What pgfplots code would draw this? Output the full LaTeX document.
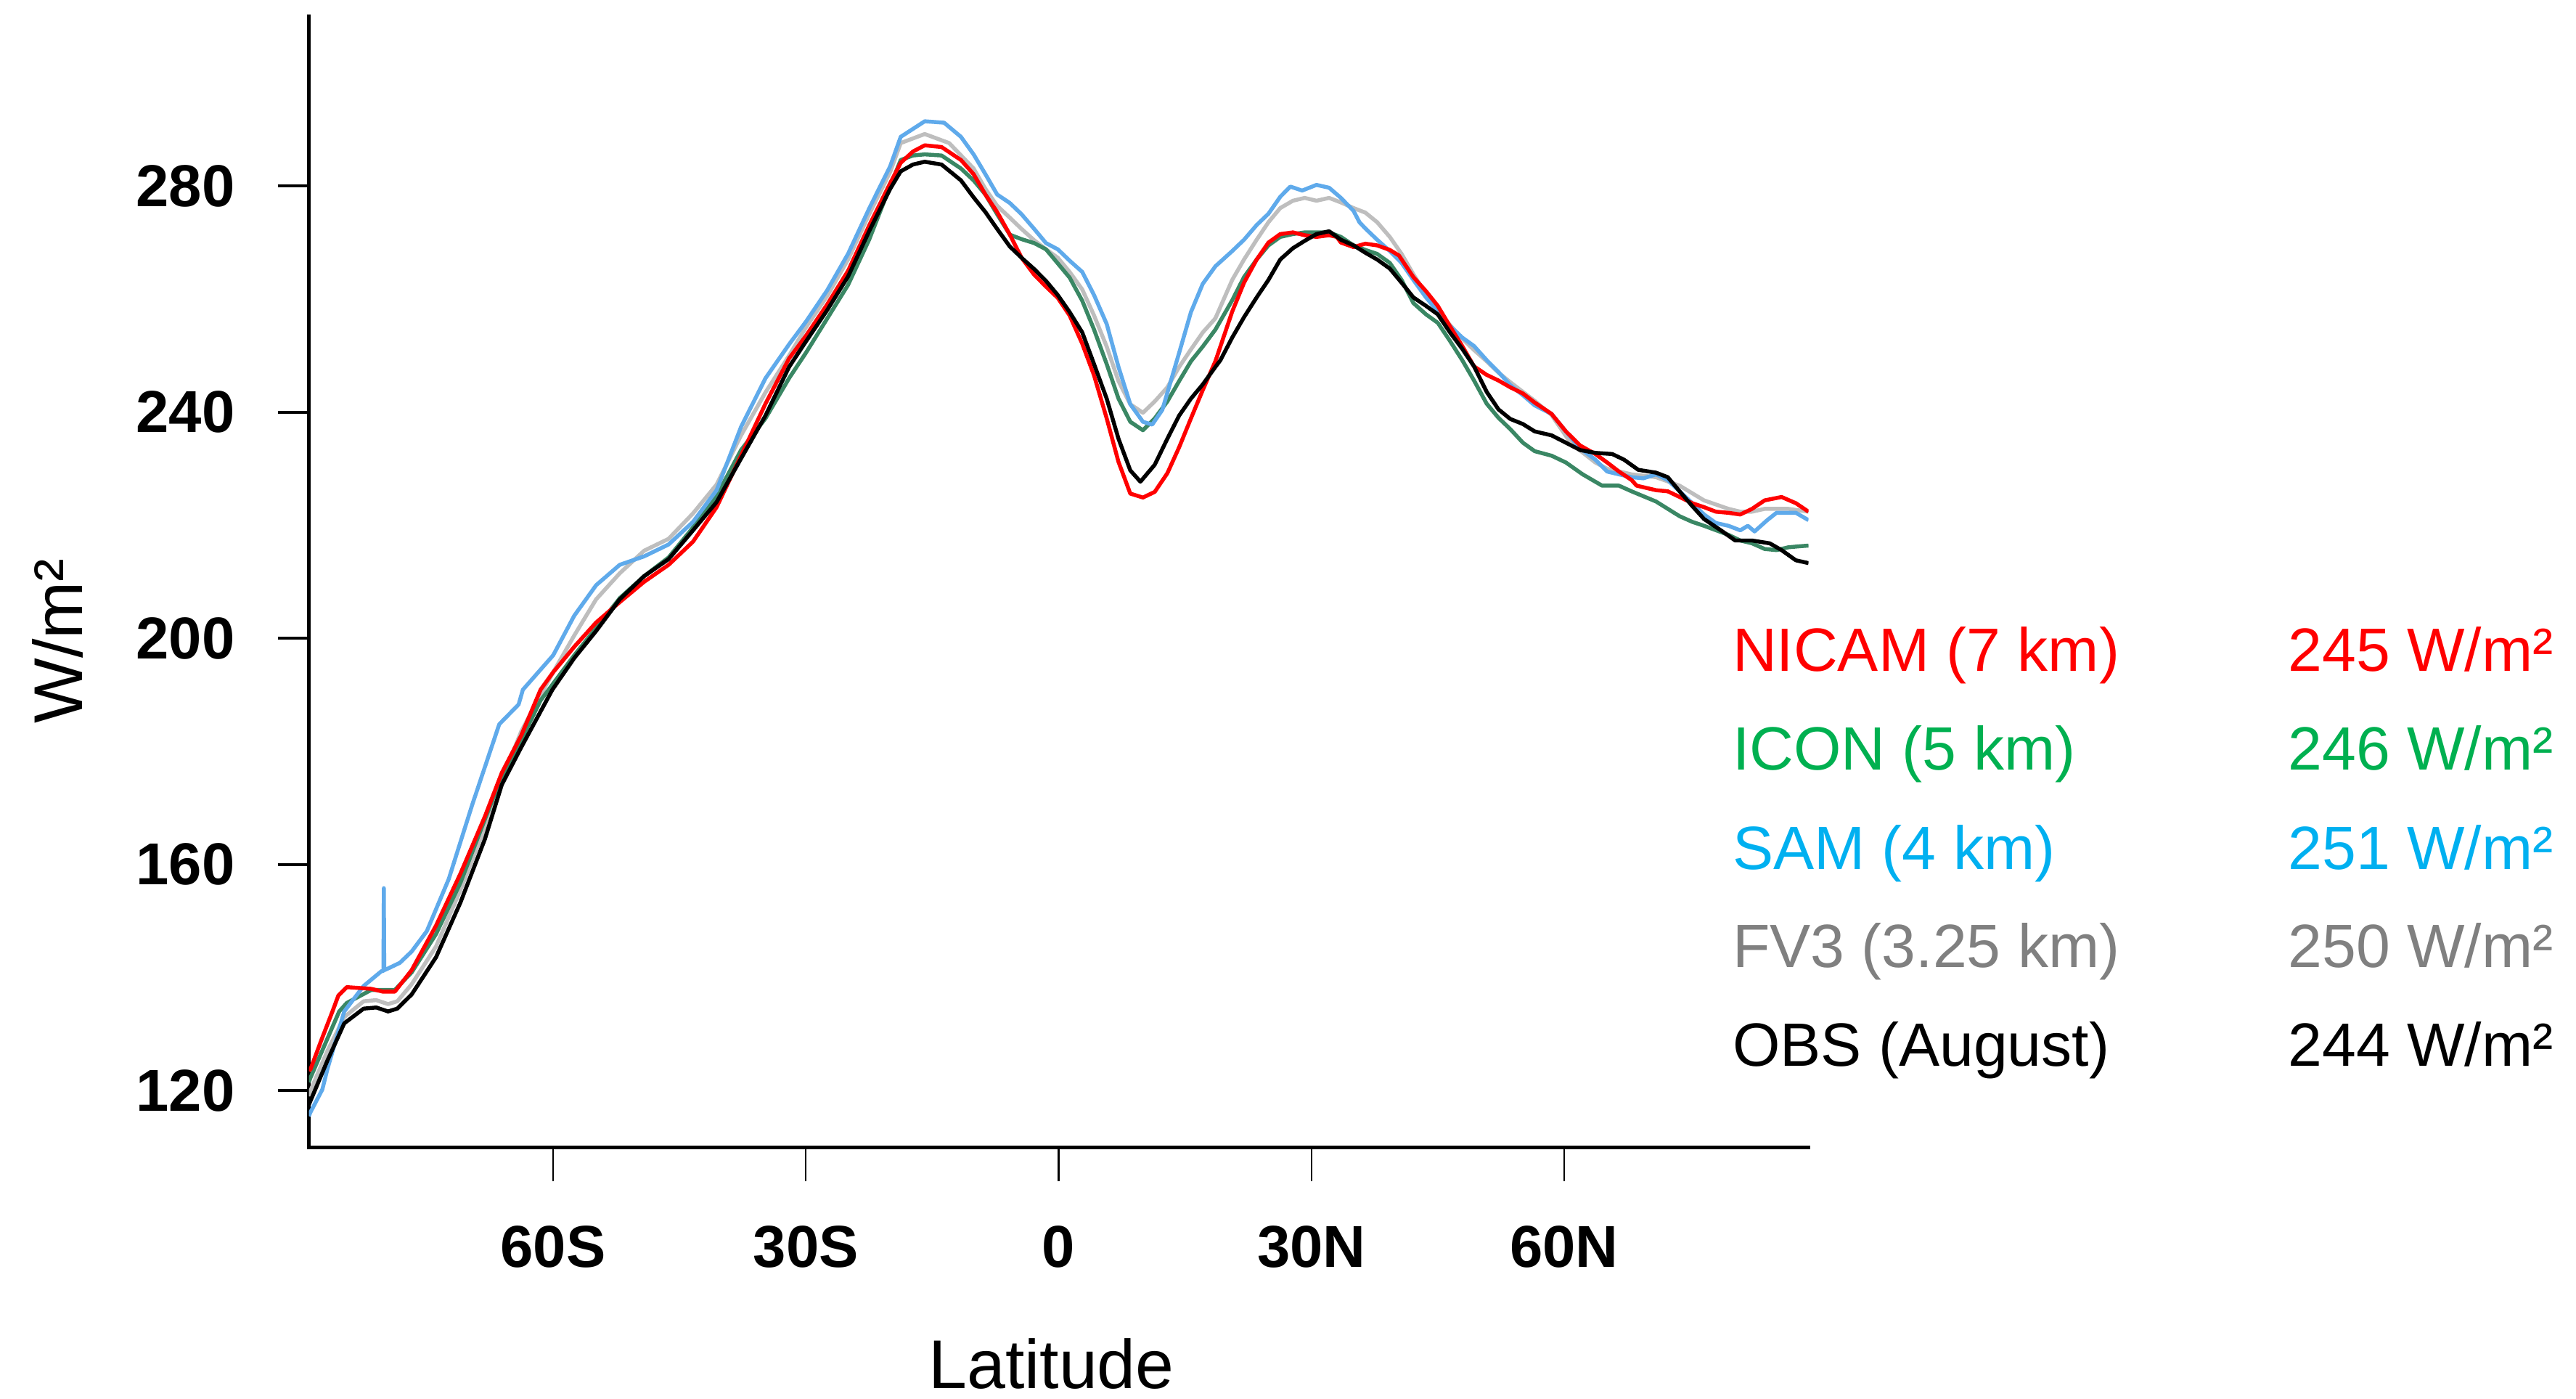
\documentclass[border=0pt]{standalone}
\usepackage{fontspec}
\setmainfont{Liberation Sans}
\usepackage{pgfplots}
\pgfplotsset{compat=1.18}
\definecolor{nicamL}{RGB}{255,0,0}
\definecolor{iconL}{RGB}{58,135,100}
\definecolor{samL}{RGB}{95,170,235}
\definecolor{fvL}{RGB}{190,190,190}
\definecolor{iconT}{RGB}{0,176,80}
\definecolor{samT}{RGB}{0,176,240}
\definecolor{fvT}{RGB}{128,128,128}
\begin{document}
\begin{tikzpicture}
\begin{axis}[
  scale only axis, width=456.4pt, height=344.05pt,
  xmin=-89, xmax=89, ymin=110, ymax=310,
  axis x line*=bottom, axis y line*=left,
  axis line style={line width=1.1pt, line cap=rect},
  tick align=outside, major tick length=9.5pt,
  xtick={-60,-30,0,30,60}, xticklabels={60S,30S,0,30N,60N},
  ytick={120,160,200,240,280}, yticklabels={120,160,200,240,280},
  xtick style={line width=0.5pt, black, /pgfplots/major tick length=10.4pt},
  ytick style={line width=0.8pt, black},
  minor tick num=0,
  tick label style={font=\fontsize{18}{20}\selectfont\bfseries},
  xticklabel shift=11pt, yticklabel shift=9.5pt,
  every axis plot/.append style={line width=1.2pt, line join=round, mark=none},
]
% FV3
\addplot[color=fvL] coordinates {
(-89,119) (-88.8,120) (-86.8,127) (-84.8,133) (-82.5,135.8) (-81,136) (-79.6,135.3) (-78.5,135.8) (-76.8,138.8) (-73.9,145.5) (-71,155.5) (-68.1,166.5) (-66.1,175) (-63.8,183.5) (-61.5,190) (-60,194) (-57.5,200.5) (-54.9,206.9) (-52.1,211.5) (-49.2,215.5) (-46.3,217.6) (-43.4,222.1) (-40.6,227.2) (-37.7,235.9) (-34.8,243.5) (-32,250) (-30,255) (-27.5,260.5) (-25,267) (-22.5,275) (-20,282.5) (-18.75,287.6) (-15.9,289.2) (-13,287.6) (-10.1,283.1) (-8.7,279.5) (-7.3,276.5) (-5.8,274.4) (-4.4,272.4) (-2.9,270.4) (-1.5,268.8) (-0.1,267.3) (1.3,264.8) (2.8,261.7) (4.2,257.1) (5.7,251.6) (7.1,245.5) (8.5,241.4) (10,239.9) (11.4,241.9) (12.9,244.4) (14.3,248) (15.7,251.1) (17.1,254.1) (18.6,256.6) (20.6,263.4) (22,267) (23.5,270.5) (24.9,273.6) (26.3,276.1) (27.8,277.4) (29.2,277.9) (30.6,277.4) (32.1,277.9) (33.5,277.1) (35,276.1) (36.4,275.3) (37.8,273.6) (39.3,271) (40.7,268) (42.1,264.4) (43.6,260.9) (45,257.8) (46.4,255.5) (47.9,253) (49.3,251) (50.8,249) (52.2,247) (53.6,245.3) (56.5,242) (58.5,239.5) (60.8,234.5) (63.7,231.1) (65.1,230) (68,229) (70.9,228.5) (73.7,227) (76.6,224.4) (79.5,222.9) (80.9,222.4) (82.3,222.4) (83.8,222.9) (86.6,222.9) (89,222.4)
};
% ICON
\addplot[color=iconL] coordinates {
(-89,121.5) (-88.8,122.3) (-85.4,134) (-84.5,135.5) (-81.6,137.8) (-78.8,137.8) (-76.8,140.9) (-73.9,147.7) (-71,156.8) (-68.1,168) (-66.1,175.6) (-63.8,182) (-61.5,189) (-60,192) (-57.5,197) (-54.9,201.8) (-52.1,207.1) (-49.2,211) (-46.3,214.3) (-43.4,219.6) (-40.6,225.2) (-37.7,233.3) (-34.8,238.9) (-32,246) (-30,250.5) (-27.5,256.5) (-25,262.5) (-22.5,270.5) (-20,280) (-18.75,284.6) (-17.3,285.4) (-15.9,285.6) (-13.9,285.4) (-11.6,283.1) (-10.1,281) (-8.7,278.5) (-7.3,275) (-5.8,271.4) (-4.4,270.6) (-2.9,269.9) (-1.5,268.8) (-0.1,266.3) (1.3,263.8) (2.8,259.7) (4.2,254.6) (5.7,248.5) (7.1,242.4) (8.5,238.3) (10,236.8) (11.4,238.9) (12.9,241.9) (14.3,245.5) (15.7,249) (17.1,251.6) (18.6,254.6) (20.6,259.8) (22,263.9) (23.5,267) (24.9,269.5) (26.3,271) (27.8,271.5) (29.2,271.8) (30.6,271.8) (32.1,271.8) (33.5,271) (35,269.5) (36.4,268.7) (37.8,268) (39.3,266.4) (40.7,263.4) (42.1,259.3) (43.6,257.3) (45,255.8) (46.4,252.7) (47.9,249.2) (49.3,245.6) (50.8,241.5) (52.2,239) (53.6,237) (55.1,234.6) (56.5,233.1) (58.5,232.3) (60.2,231.1) (62.2,229) (64.5,227) (66.5,227) (68,226) (70.9,224.2) (72.3,222.9) (73.7,221.6) (75.2,220.6) (76.6,219.9) (79.5,218.3) (80.9,217.3) (82.3,216.8) (83.8,215.8) (85.2,215.6) (86.6,216.1) (88.1,216.3) (89,216.4)
};
% SAM
\addplot[color=samL] coordinates {
(-89,115.5) (-88.8,116.2) (-87.4,120.2) (-86.8,123.8) (-84.8,134) (-82.5,138.5) (-80.4,141.1) (-80.15,141.2) (-80.1,155.8) (-80.05,141.3) (-79.6,141.6) (-78.2,142.6) (-76.8,144.6) (-75,148.2) (-72.4,157.4) (-69.6,170.6) (-66.4,184.8) (-64.1,188.3) (-63.6,190.9) (-60,197) (-57.5,204) (-54.9,209.4) (-52.1,213) (-49.2,214.5) (-46.3,216.6) (-43.4,220.6) (-40.6,226.2) (-37.7,237.4) (-34.8,246) (-32,252) (-30,256) (-27.5,261.5) (-25,268) (-22.5,276) (-20,283.5) (-18.75,288.7) (-15.9,291.45) (-13.6,291.2) (-11.6,288.7) (-10.1,285.6) (-8.7,282.1) (-7.3,278.5) (-5.8,277) (-4.4,275) (-2.9,272.4) (-1.5,269.9) (-0.1,268.8) (1.3,266.8) (2.8,264.8) (4.2,260.7) (5.7,255.6) (7.1,248) (8.5,241.4) (10,238.3) (11.1,237.8) (12.3,240.4) (14.3,250.5) (15.7,257.7) (17.1,262.7) (18.6,265.8) (20.6,268.5) (22,270.5) (23.5,273.1) (24.9,275.1) (26.3,278.1) (27.5,279.9) (28.9,279.2) (30.6,280.2) (32.1,279.7) (33.5,277.9) (35,275.6) (35.7,273.6) (36.4,272.5) (37.8,270.5) (39.3,268.5) (40.7,266.4) (42.1,263.4) (43.6,260.3) (45,257.8) (46.4,255.3) (47.9,253.2) (49.3,251.7) (50.8,249.2) (52.2,247.1) (53.6,244.8) (55.1,243) (56.5,241.2) (58.5,239.7) (60.2,236.6) (61.9,233.6) (63.7,231.6) (65.1,229.5) (66.5,229) (68,228.5) (69.4,228.3) (70.9,229) (72.3,228) (73.7,226) (75.2,223.9) (76.6,221.9) (78,220.4) (79.5,219.9) (80.9,219.1) (81.8,219.9) (82.6,218.9) (84.1,220.9) (85.2,222.2) (87.5,222.2) (89,220.9)
};
% NICAM
\addplot[color=nicamL] coordinates {
(-89,123.5) (-88.8,123.8) (-87.5,129) (-86.2,134) (-85.5,136.8) (-84.5,138.3) (-81.6,138) (-80.2,137.5) (-78.8,137.5) (-76.8,141.3) (-73.9,149.2) (-71,158.4) (-68.1,168.5) (-66.1,176.2) (-63.8,182.8) (-61.5,190.9) (-60,194) (-57.5,198.5) (-54.9,202.8) (-52.1,206.4) (-49.2,210) (-46.3,213) (-43.4,217.1) (-40.6,223.2) (-37.7,232.3) (-34.8,241.5) (-32,249.5) (-30,253.5) (-27.5,259) (-25,265) (-22.5,273) (-20,280.5) (-18.75,284.1) (-17.3,286.1) (-15.9,287.2) (-13.9,286.9) (-11.6,284.6) (-10.1,282.1) (-8.7,278.5) (-7.3,275.4) (-5.8,271.4) (-4.4,267.3) (-2.9,264.3) (-1.5,262.2) (-0.1,260.2) (1.3,257.1) (2.8,252.1) (4.2,246.5) (5.7,238.9) (7.1,231.2) (8.5,225.6) (10,224.9) (11.4,225.9) (12.9,229.2) (14.3,233.8) (15.7,238.9) (17.1,243.9) (18.6,249) (20.6,257.8) (22,262.9) (23.5,267) (24.9,270) (26.3,271.5) (27.8,271.8) (29.2,271.3) (30.6,271) (32.1,271.3) (33,271) (33.5,270) (35,269.2) (36.4,269.8) (37.8,269.5) (39.3,268.7) (40.4,267.7) (42.1,263.9) (43.6,261.4) (45,258.8) (46.4,255.3) (47.9,251.7) (49.3,248.1) (50.8,246.6) (52.2,245.6) (53.6,244.4) (55.1,243.3) (56.5,241.7) (58.5,239.7) (60.2,236.6) (61.9,234.1) (63.7,232.6) (65.1,231.1) (66.5,229.5) (68,228) (68.6,227) (70.9,226.2) (72.3,226) (73.7,225) (75.2,223.9) (76.6,223.2) (78,222.4) (79.5,222.2) (80.9,221.9) (82.3,222.9) (83.8,224.4) (85.8,225) (87.5,223.9) (89,222.4)
};
% OBS
\addplot[color=black] coordinates {
(-89,117.5) (-88.8,118.2) (-86.8,125.3) (-84.8,131.9) (-82.5,134.5) (-81,134.7) (-79.6,134) (-78.5,134.5) (-76.8,137) (-73.9,143.6) (-71,153.3) (-68.1,164.5) (-66.1,174.1) (-63.8,180.7) (-60.1,190.9) (-57.5,196.5) (-54.9,201.3) (-52.1,206.9) (-49.2,211) (-46.3,214) (-43.4,219.1) (-40.6,224.1) (-37.7,231.8) (-34.8,239.4) (-32,248) (-30,252.5) (-27.5,258) (-25,264) (-22.5,272) (-20,279.5) (-18.75,282.6) (-17.3,283.8) (-15.9,284.3) (-13.9,283.8) (-11.6,281) (-10.1,278) (-8.7,275.4) (-7.3,272.4) (-5.8,269.3) (-4.4,267.3) (-2.9,265.3) (-1.5,263.2) (-0.1,260.7) (1.3,257.7) (2.8,254.1) (4.2,248.5) (5.7,242.4) (7.1,235.3) (8.5,229.7) (9.7,227.7) (11.4,230.7) (12.9,235.3) (14.3,239.4) (15.7,242.4) (17.1,244.9) (18.6,248) (19.2,249.2) (20.6,253.2) (22,256.8) (23.5,260.3) (24.9,263.4) (26.3,267) (27.8,269) (29.2,270.3) (30.6,271.5) (32.1,272) (33.5,270.5) (35,269.5) (36.4,268.2) (37.8,267) (39.3,265.4) (40.7,262.9) (42.1,260.3) (43.6,258.8) (45,257.3) (46.4,254.2) (47.9,251.2) (49.3,248.1) (50.8,243.6) (52.2,240.5) (53.6,238.8) (55.1,237.9) (56.5,236.6) (58.5,235.9) (60.2,234.6) (61.9,233.3) (63.7,232.8) (65.7,232.6) (67.1,231.6) (68.8,229.8) (70.9,229.3) (72.3,228.5) (73.7,226) (75.2,223.4) (76.6,221.1) (78.6,219.1) (80.3,217.3) (82.3,217.3) (84.4,216.8) (85.8,215.6) (87.5,213.8) (89,213.3)
};
\end{axis}
% axis titles
\node[anchor=base, inner sep=0pt, font=\fontsize{21}{24}\selectfont] at (226pt,-73.5pt) {Latitude};
\node[rotate=90, anchor=center, inner sep=0pt, font=\fontsize{21}{24}\selectfont] at (-76.5pt,154pt) {W/m²};
% legend text
\begin{scope}[every node/.style={inner sep=0pt, font=\fontsize{18.6}{20}\selectfont}]
\node[anchor=base west, text=nicamL] at (433.1pt,144.75pt) {NICAM (7 km)};
\node[anchor=base east, text=nicamL] at (683.2pt,144.75pt) {245 W/m²};
\node[anchor=base west, text=iconT] at (433.1pt,114.75pt) {ICON (5 km)};
\node[anchor=base east, text=iconT] at (683.2pt,114.75pt) {246 W/m²};
\node[anchor=base west, text=samT] at (433.1pt,84.6pt) {SAM (4 km)};
\node[anchor=base east, text=samT] at (683.2pt,84.6pt) {251 W/m²};
\node[anchor=base west, text=fvT] at (433.1pt,54.6pt) {FV3 (3.25 km)};
\node[anchor=base east, text=fvT] at (683.2pt,54.6pt) {250 W/m²};
\node[anchor=base west, text=black] at (433.1pt,24.6pt) {OBS (August)};
\node[anchor=base east, text=black] at (683.2pt,24.6pt) {244 W/m²};
\end{scope}
\pgfresetboundingbox
\useasboundingbox (-94pt,-76.45pt) rectangle (690pt,349.05pt);
\end{tikzpicture}
\end{document}
